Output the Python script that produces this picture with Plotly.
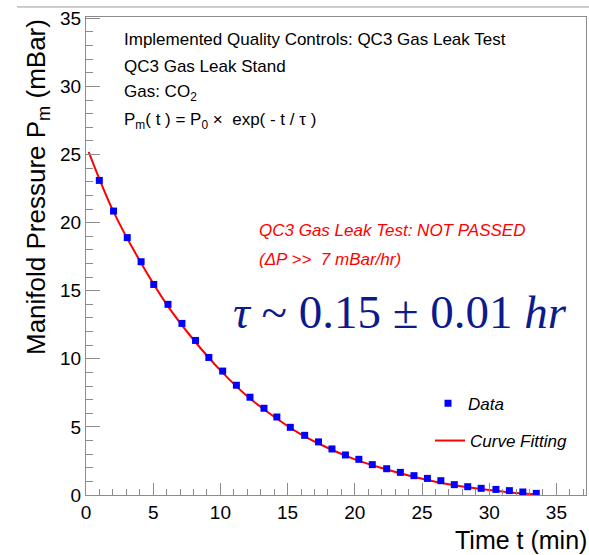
import plotly.graph_objects as go

# Donnees (temps en min, pression en mBar)
temps = [0.99, 2.05, 3.07, 4.10, 5.04, 6.10, 7.14, 8.15, 9.14, 10.17, 11.19,
         12.20, 13.24, 14.20, 15.20, 16.27, 17.30, 18.30, 19.30, 20.30, 21.30,
         22.37, 23.39, 24.40, 25.40, 26.40, 27.40, 28.40, 29.40, 30.50, 31.50,
         32.50, 33.50]
pression = [23.1, 20.85, 18.9, 17.13, 15.46, 14.0, 12.6, 11.35, 10.1, 9.1, 8.06,
            7.18, 6.37, 5.73, 4.97, 4.38, 3.9, 3.38, 2.94, 2.62, 2.23,
            1.93, 1.66, 1.42, 1.22, 1.05, 0.76, 0.61, 0.49, 0.41, 0.32,
            0.22, 0.12]

# Courbe d'ajustement
fit_t = [0.2, 2, 4, 6, 8, 10, 12, 14, 16, 18, 20, 22, 24, 26, 28, 30, 32, 33.7]
fit_p = [25.2, 20.9, 17.2, 14.0, 11.4, 9.15, 7.25, 5.75, 4.45, 3.45, 2.62,
         1.98, 1.43, 0.98, 0.62, 0.36, 0.15, 0.04]

police = "Liberation Sans"
gris = "#8c8c8c"

fig = go.Figure()

fig.add_trace(go.Scatter(x=fit_t, y=fit_p, mode='lines', name='Curve Fitting',
                         line=dict(color='red', width=2, shape='spline'),
                         legend='legend2', showlegend=True, hoverinfo='skip'))
fig.add_trace(go.Scatter(x=temps, y=pression, mode='markers', name='Data',
                         marker=dict(symbol='square', size=7, color='#0000ff'),
                         legend='legend', showlegend=True))

# Textes
lignes = ["Implemented Quality Controls: QC3 Gas Leak Test",
          "QC3 Gas Leak Stand",
          "Gas: CO<sub>2</sub>",
          "P<sub>m</sub>( t ) = P<sub>0</sub> \u00d7  exp( - t / \u03c4 )"]
pos_y = [0.952, 0.896, 0.841, 0.782]
for txt, yy in zip(lignes, pos_y):
    fig.add_annotation(text=txt, xref='paper', yref='paper', x=0.072, y=yy,
                       xanchor='left', yanchor='middle', showarrow=False,
                       font=dict(family=police, size=17, color='black'))

rouges = ["QC3 Gas Leak Test: NOT PASSED", "(\u0394P >>  7 mBar/hr)"]
for txt, yy in zip(rouges, [0.553, 0.493]):
    fig.add_annotation(text=txt, xref='paper', yref='paper', x=0.342, y=yy,
                       xanchor='left', yanchor='middle', showarrow=False,
                       font=dict(family=police, size=17, color='red', style='italic'))

fig.add_annotation(text="<i>\u03c4</i> ~ 0.15 \u00b1 0.01 <i>hr</i>",
                   xref='paper', yref='paper', x=0.29, y=0.383,
                   xanchor='left', yanchor='middle', showarrow=False,
                   font=dict(family="Liberation Serif", size=47, color='#0d1a8c'))

# Titres des axes (alignes a droite comme ROOT)
fig.add_annotation(text="Manifold Pressure P<sub>m</sub> (mBar)", textangle=-90,
                   xref='paper', yref='paper', x=-0.098, y=1.0,
                   xanchor='center', yanchor='top', showarrow=False,
                   font=dict(family=police, size=26, color='black'))
fig.add_annotation(text="Time t (min)", xref='paper', yref='paper', x=1.006, y=-0.094,
                   xanchor='right', yanchor='middle', showarrow=False,
                   font=dict(family=police, size=25, color='black'))

# ligne grise du canevas en haut
fig.add_shape(type='line', xref='paper', yref='paper', x0=-0.138, x1=1.01,
              y0=1.021, y1=1.021, line=dict(color='#999999', width=1))

fig.update_xaxes(range=[0, 37.2], showgrid=False, zeroline=False,
                 showline=True, linecolor=gris, linewidth=1, mirror=True,
                 ticks='inside', ticklen=12, tickcolor=gris, dtick=5,
                 minor=dict(ticks='inside', ticklen=6, dtick=1, tickcolor=gris),
                 tickfont=dict(family=police, size=19, color='black'))
fig.update_yaxes(range=[0, 35.1], showgrid=False, zeroline=False,
                 showline=True, linecolor=gris, linewidth=1, mirror=True,
                 ticks='inside', ticklen=14, tickcolor=gris, dtick=5,
                 minor=dict(ticks='inside', ticklen=7, dtick=1, tickcolor=gris),
                 tickfont=dict(family=police, size=19, color='black'))

fig.update_layout(
    width=589, height=555, showlegend=True,
    margin=dict(l=86, r=3, t=17, b=60),
    plot_bgcolor='white', paper_bgcolor='white',
    legend=dict(x=0.684, y=0.191, xanchor='left', yanchor='middle',
                bgcolor='rgba(0,0,0,0)', visible=True,
                font=dict(family=police, size=17, color='black', style='italic')),
    legend2=dict(x=0.688, y=0.113, xanchor='left', yanchor='middle',
                 bgcolor='rgba(0,0,0,0)', visible=True,
                 font=dict(family=police, size=17, color='black', style='italic')),
)

fig.write_html("out.html", config={'displayModeBar': False},
               post_script="document.body.style.margin='0';")
